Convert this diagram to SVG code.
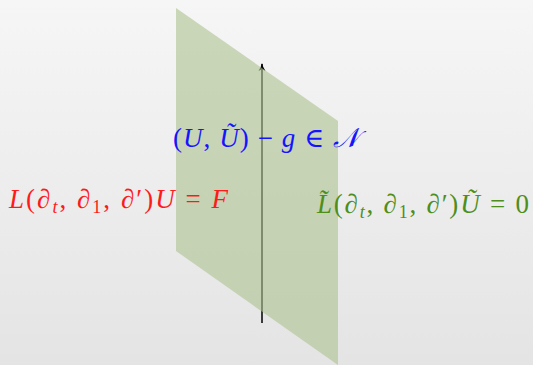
<svg xmlns="http://www.w3.org/2000/svg" width="533" height="365" viewBox="0 0 533 365">
<defs>
<linearGradient id="bg" x1="0" y1="0" x2="0" y2="1">
<stop offset="0" stop-color="#f6f6f6"/>
<stop offset="1" stop-color="#e4e4e4"/>
</linearGradient>
<marker id="ah" markerWidth="10" markerHeight="10" refX="8" refY="5" orient="auto" markerUnits="userSpaceOnUse" viewBox="0 0 10 10">
<path d="M1,1.5 Q5,4.2 9,5 Q5,5.8 1,8.5 L3,5 Z" fill="#000"/>
</marker>
<style>
.m{font-family:"Liberation Serif","DejaVu Serif",serif;font-size:27px}
.i{font-style:italic}
.sub{font-size:18px}
</style>
</defs>
<rect width="533" height="365" fill="url(#bg)"/>
<g id="connectors">
<line x1="262" y1="323" x2="262" y2="64" stroke="#000" stroke-width="1.5" marker-end="url(#ah)"/>
</g>
<g id="plane">
<polygon points="176,8 338,121 338,365 176,251" fill="#abc190" fill-opacity="0.6"/>
</g>
<g id="label-coupling">
<text class="m" x="173" y="147" fill="#1414ff" textLength="186" lengthAdjust="spacing">(<tspan class="i">U</tspan>, <tspan class="i">Ũ</tspan>) − <tspan class="i">g</tspan> ∈ <tspan class="i">𝒩</tspan></text>
</g>
<g id="label-left">
<text class="m" x="9" y="208" fill="#ff1a1a" textLength="219" lengthAdjust="spacing"><tspan class="i">L</tspan>(∂<tspan class="i sub" dy="5">t</tspan><tspan dy="-5">, ∂</tspan><tspan class="sub" dy="5">1</tspan><tspan dy="-5">, ∂′)</tspan><tspan class="i">U</tspan> = <tspan class="i">F</tspan></text>
</g>
<g id="label-right">
<text class="m" x="317" y="213" fill="#4d8f1a" textLength="212" lengthAdjust="spacing"><tspan class="i">L̃</tspan>(∂<tspan class="i sub" dy="5">t</tspan><tspan dy="-5">, ∂</tspan><tspan class="sub" dy="5">1</tspan><tspan dy="-5">, ∂′)</tspan><tspan class="i">Ũ</tspan> = 0</text>
</g>
</svg>
